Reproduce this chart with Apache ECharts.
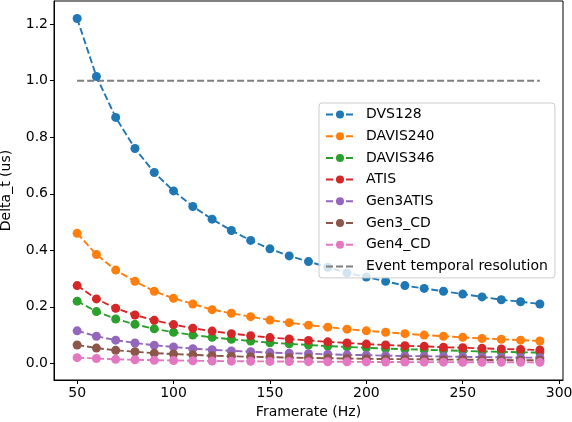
<!DOCTYPE html>
<html>
<head>
<meta charset="utf-8">
<script src="https://cdn.jsdelivr.net/npm/echarts@6/dist/echarts.min.js"></script>
<style>
  html, body { margin: 0; padding: 0; background: #fff; }
  #chart { width: 572px; height: 422px; }
</style>
</head>
<body>
<div id="chart"></div>
<script>
// framerate (Hz)
var frames = [50, 60, 70, 80, 90, 100, 110, 120, 130, 140, 150, 160, 170, 180, 190, 200, 210, 220, 230, 240, 250, 260, 270, 280, 290];

// delta_t (us) per sensor
var dvs128   = [1.22, 1.015, 0.87, 0.76, 0.675, 0.61, 0.555, 0.51, 0.47, 0.435, 0.405, 0.38, 0.36, 0.34, 0.32, 0.305, 0.29, 0.275, 0.265, 0.255, 0.245, 0.235, 0.225, 0.218, 0.21];
var davis240 = [0.46, 0.385, 0.33, 0.29, 0.255, 0.23, 0.21, 0.19, 0.177, 0.165, 0.153, 0.144, 0.135, 0.128, 0.121, 0.115, 0.11, 0.105, 0.1, 0.096, 0.092, 0.088, 0.085, 0.082, 0.079];
var davis346 = [0.22, 0.183, 0.157, 0.138, 0.122, 0.11, 0.1, 0.092, 0.085, 0.079, 0.073, 0.069, 0.065, 0.061, 0.058, 0.055, 0.052, 0.05, 0.048, 0.046, 0.044, 0.042, 0.041, 0.039, 0.038];
var atis     = [0.275, 0.228, 0.195, 0.171, 0.152, 0.137, 0.124, 0.114, 0.105, 0.098, 0.091, 0.086, 0.081, 0.076, 0.072, 0.068, 0.065, 0.062, 0.06, 0.057, 0.055, 0.053, 0.051, 0.049, 0.047];
var gen3atis = [0.115, 0.096, 0.082, 0.072, 0.064, 0.058, 0.052, 0.048, 0.044, 0.041, 0.038, 0.036, 0.034, 0.032, 0.03, 0.029, 0.027, 0.026, 0.025, 0.024, 0.023, 0.022, 0.021, 0.02, 0.02];
var gen3cd   = [0.065, 0.054, 0.046, 0.041, 0.036, 0.033, 0.03, 0.027, 0.025, 0.023, 0.022, 0.02, 0.019, 0.018, 0.017, 0.016, 0.015, 0.015, 0.014, 0.013, 0.013, 0.012, 0.012, 0.011, 0.011];
var gen4cd   = [0.02, 0.017, 0.014, 0.0125, 0.011, 0.01, 0.009, 0.0083, 0.0077, 0.0071, 0.0067, 0.0063, 0.0059, 0.0056, 0.0053, 0.005, 0.0048, 0.0045, 0.0043, 0.0042, 0.004, 0.0038, 0.0037, 0.0036, 0.0034];
var eventResolution = 1.0;

var xTicks = [50, 100, 150, 200, 250, 300];
var yTicks = [0, 0.2, 0.4, 0.6, 0.8, 1.0, 1.2];

var sensors = [
    { name: 'DVS128',   data: dvs128,   color: '#1f77b4' },
    { name: 'DAVIS240', data: davis240, color: '#ff7f0e' },
    { name: 'DAVIS346', data: davis346, color: '#2ca02c' },
    { name: 'ATIS',     data: atis,     color: '#d62728' },
    { name: 'Gen3ATIS', data: gen3atis, color: '#9467bd' },
    { name: 'Gen3_CD',  data: gen3cd,   color: '#8c564b' },
    { name: 'Gen4_CD',  data: gen4cd,   color: '#e377c2' }
];

var font = 'DejaVu Sans';
var fs = 14;

var series = sensors.map(function (s) {
    return {
        name: s.name,
        type: 'line',
        data: frames.map(function (f, i) { return [f, s.data[i]]; }),
        symbol: 'circle',
        symbolSize: 9,
        itemStyle: { color: s.color },
        lineStyle: { color: s.color, width: 1.9, type: [7, 3] },
        animation: false
    };
});
series.push({
    name: 'Event temporal resolution',
    type: 'line',
    data: frames.map(function (f) { return [f, eventResolution]; }),
    symbol: 'none',
    itemStyle: { color: '#7f7f7f' },
    lineStyle: { color: '#7f7f7f', width: 1.9, type: [7, 3] },
    animation: false
});

var legendData = series.map(function (s) {
    if (s.symbol === 'none') {
        return { name: s.name, itemStyle: { color: 'rgba(0,0,0,0)', borderWidth: 0, opacity: 0 } };
    }
    return { name: s.name };
});

var chart = echarts.init(document.getElementById('chart'));
chart.setOption({
    backgroundColor: '#fff',
    animation: false,
    grid: {
        left: 54,
        right: 9,
        top: 1,
        bottom: 42,
        outerBoundsMode: 'none',
        containLabel: false,
        show: true,
        borderColor: '#000',
        borderWidth: 1,
        backgroundColor: 'transparent'
    },
    legend: {
        orient: 'vertical',
        left: 319,
        top: 103,
        padding: [4, 7, 4, 6],
        itemWidth: 28,
        itemHeight: 10,
        itemGap: 6.7,
        backgroundColor: 'rgba(255,255,255,0.8)',
        borderColor: '#cccccc',
        borderWidth: 1,
        borderRadius: 3,
        textStyle: { fontFamily: font, fontSize: fs, color: '#000', lineHeight: 15, padding: [0, 0, 0, 7] },
        data: legendData
    },
    xAxis: {
        type: 'value',
        min: 38,
        max: 302,
        name: 'Framerate (Hz)',
        nameLocation: 'middle',
        nameGap: 23,
        nameTextStyle: { fontFamily: font, fontSize: fs, color: '#000' },
        axisLine: { onZero: false, lineStyle: { color: '#000', width: 1 } },
        axisTick: { show: true, length: 4, lineStyle: { color: '#000' }, customValues: xTicks },
        axisLabel: { fontFamily: font, fontSize: fs, color: '#000', margin: 6, customValues: xTicks },
        splitLine: { show: false }
    },
    yAxis: {
        type: 'value',
        min: -0.059,
        max: 1.282,
        name: 'Delta_t (us)',
        nameLocation: 'middle',
        nameGap: 41,
        nameTextStyle: { fontFamily: font, fontSize: fs, color: '#000' },
        axisLine: { show: true, onZero: false, lineStyle: { color: '#000', width: 1 } },
        axisTick: { show: true, length: 4, lineStyle: { color: '#000' }, customValues: yTicks },
        axisLabel: {
            fontFamily: font, fontSize: fs, color: '#000', margin: 6,
            customValues: yTicks,
            formatter: function (v) { return v.toFixed(1); }
        },
        splitLine: { show: false }
    },
    series: series
});
</script>
</body>
</html>
